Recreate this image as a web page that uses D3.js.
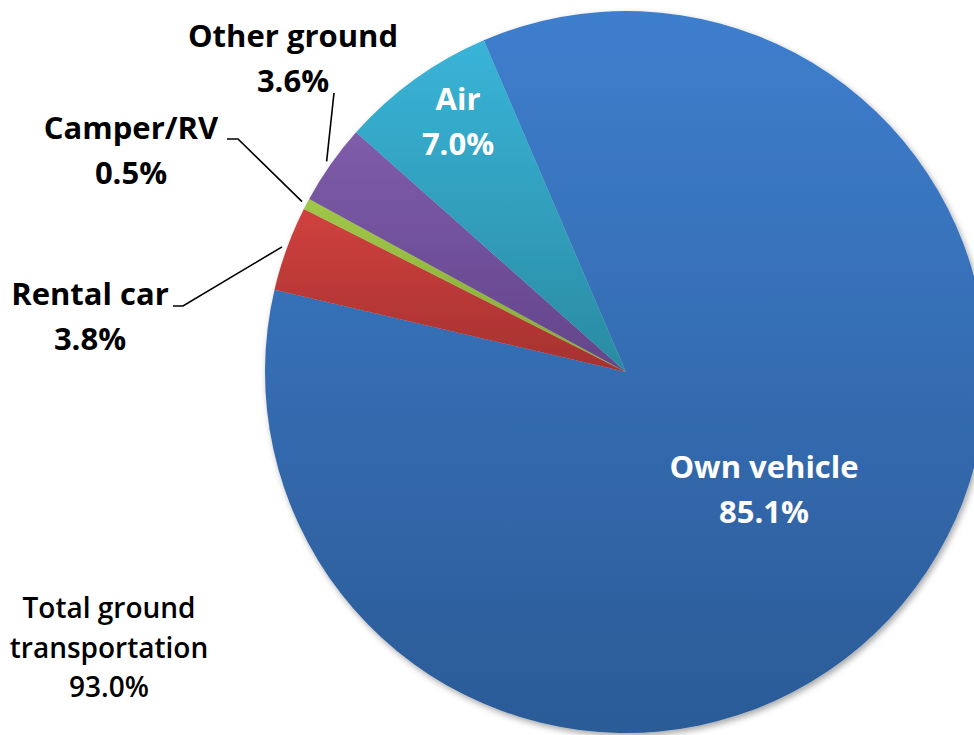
<!DOCTYPE html>
<html>
<head>
<meta charset="utf-8">
<script src="https://cdn.jsdelivr.net/npm/d3@7"></script>
<style>
  body { margin: 0; background: #fff; }
  svg { display: block; }
  text { font-family: "Open Sans", sans-serif; }
</style>
</head>
<body>
<svg id="chart" width="974" height="735"></svg>
<script>
// data
const categories = ['Own vehicle', 'Rental car', 'Camper/RV', 'Other ground', 'Air']
const shares = [85.1, 3.8, 0.5, 3.6, 7.0]
const totalLines = ['Total ground', 'transportation']
const totalShare = 93.0

// styles
const colorTop = ['#3e7ecd', '#d0413e', '#a0c748', '#7e5caa', '#39b4d8']
const colorBottom = ['#2b5b97', '#a53130', '#86a93a', '#63458a', '#2a8ba2']

// layout of the labels (text anchors and leader line elbows)
const labelLayout = {
  'Own vehicle': { x: 764, y: 478, fill: '#fff' },
  'Air': { x: 458, y: 110, fill: '#fff' },
  'Other ground': { x: 293, y: 47, fill: '#000', leader: [[334, 93]] },
  'Camper/RV': { x: 131, y: 139, fill: '#000', leader: [[227, 139], [238, 139]] },
  'Rental car': { x: 90, y: 305, fill: '#000', leader: [[173, 306], [183, 306]] }
}

const width = 974, height = 735
const cx = 626, cy = 372, radius = 361
const lineGap = 45
const startAngle = -23.2 * Math.PI / 180

const svg = d3.select('#chart')
const defs = svg.append('defs')

const shadow = defs.append('filter').attr('id', 'shadow')
  .attr('x', '-10%').attr('y', '-10%').attr('width', '120%').attr('height', '120%')
shadow.append('feDropShadow')
  .attr('dx', 2).attr('dy', 3).attr('stdDeviation', 3)
  .attr('flood-color', '#000').attr('flood-opacity', 0.35)

categories.forEach(function (c, i) {
  const g = defs.append('linearGradient').attr('id', 'grad' + i)
    .attr('x1', 0).attr('y1', 0).attr('x2', 0).attr('y2', 1)
  g.append('stop').attr('offset', '0%').attr('stop-color', colorTop[i])
  g.append('stop').attr('offset', '100%').attr('stop-color', colorBottom[i])
})

const data = categories.map(function (c, i) { return { name: c, value: shares[i], idx: i } })

const pie = d3.pie()
  .sort(null)
  .value(function (d) { return d.value })
  .startAngle(startAngle)
  .endAngle(startAngle + 2 * Math.PI)

const arcs = pie(data)
const arc = d3.arc().innerRadius(0).outerRadius(radius)
const edgeArc = d3.arc().innerRadius(radius + 5).outerRadius(radius + 5)

const g = svg.append('g').attr('transform', 'translate(' + cx + ',' + cy + ')')

g.append('g').attr('filter', 'url(#shadow)')
  .selectAll('path')
  .data(arcs)
  .enter()
  .append('path')
  .attr('d', arc)
  .attr('fill', function (d) { return 'url(#grad' + d.data.idx + ')' })

// leader lines
const line = d3.line()
arcs.forEach(function (d) {
  const lay = labelLayout[d.data.name]
  if (!lay.leader) return
  const end = edgeArc.centroid(d)
  const pts = lay.leader.map(function (p) { return [p[0] - cx, p[1] - cy] })
  pts.push(end)
  g.append('path')
    .attr('d', line(pts))
    .attr('fill', 'none')
    .attr('stroke', '#000')
    .attr('stroke-width', 1.6)
})

// slice labels
arcs.forEach(function (d) {
  const lay = labelLayout[d.data.name]
  const t = svg.append('text')
    .attr('text-anchor', 'middle')
    .attr('font-weight', 700)
    .attr('font-size', 31)
    .attr('fill', lay.fill)
  t.append('tspan').attr('x', lay.x).attr('y', lay.y).text(d.data.name)
  t.append('tspan').attr('x', lay.x).attr('y', lay.y + lineGap)
    .text(d3.format('.1f')(d.data.value) + '%')
})

// total ground note
const tt = svg.append('text')
  .attr('text-anchor', 'middle')
  .attr('font-size', 28)
  .attr('font-weight', 600)
  .attr('fill', '#000')
totalLines.concat([d3.format('.1f')(totalShare) + '%']).forEach(function (s, i) {
  tt.append('tspan').attr('x', 109).attr('y', 618 + i * 39.5).text(s)
})
</script>
</body>
</html>
